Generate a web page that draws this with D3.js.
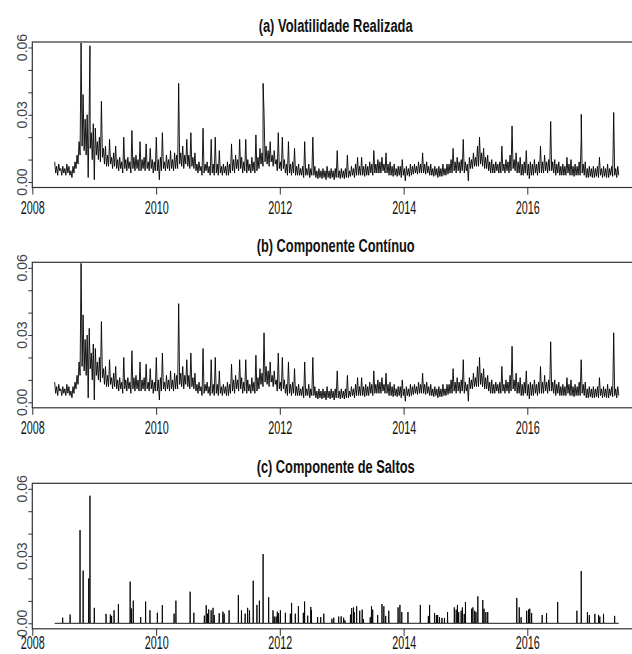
<!DOCTYPE html>
<html>
<head>
<meta charset="utf-8">
<script src="https://cdn.jsdelivr.net/npm/d3@7"></script>
<style>
  body { margin: 0; background: #fff; }
  svg { display: block; font-family: "Liberation Sans", Arial, sans-serif; }
</style>
</head>
<body>
<div id="graphic"></div>
<script>
// continuous component read in 12-day windows from 12 May 2008 (units of 0.001):
// highest value at the start of each window, lowest value half way through
var contHigh = [
  9,7,8,6,7,6,8,7,5,7,
  9,12,18,62,39,28,30,33,22,26,
  24,18,20,36,15,16,12,19,11,13,
  16,10,11,9,20,10,11,9,23,11,
  12,10,18,10,11,17,9,15,10,9,
  20,10,11,22,9,12,10,14,10,13,
  12,44,13,16,12,19,12,22,11,13,
  8,9,7,24,8,9,7,19,8,20,
  8,14,7,8,7,9,8,17,10,12,
  10,19,11,9,19,10,8,11,9,21,
  11,15,13,31,16,14,18,12,14,10,
  22,9,20,10,8,18,8,9,15,7,
  8,6,7,18,6,8,6,20,7,5,
  6,5,6,5,7,5,6,5,6,14,
  5,6,5,6,12,5,7,6,8,11,
  7,11,7,8,7,9,8,14,8,10,
  9,11,8,13,8,9,7,8,6,7,
  7,10,6,7,6,8,7,8,7,9,
  8,13,8,9,7,8,6,7,6,7,
  6,8,6,8,8,10,15,9,11,9,
  10,19,9,8,11,10,13,11,16,20,
  13,15,11,12,9,10,8,9,8,9,
  16,8,10,9,12,25,10,13,9,11,
  8,9,14,8,9,8,10,8,9,16,
  9,12,9,10,27,9,10,8,9,7,
  8,7,11,8,10,7,8,7,9,19,
  8,9,6,7,6,7,6,7,11,6,
  7,6,8,6,7,31,6,7
];
var contLow = [
  4,3,5,3,4,3,4,3,2,4,
  6,8,12,16,14,12,2,15,10,1,
  12,10,9,11,8,7,7,8,6,7,
  6,5,6,4,6,5,6,4,6,5,
  6,5,5,6,5,6,5,6,4,5,
  5,1,5,6,5,6,5,6,5,6,
  6,8,7,6,8,7,6,7,6,5,
  4,5,3,4,5,4,3,4,3,4,
  3,4,3,4,3,3,4,5,4,6,
  5,6,4,5,4,5,4,5,4,5,
  6,8,7,9,8,7,9,7,8,5,
  6,5,6,4,3,4,3,4,3,3,
  3,3,2,3,3,2,3,3,2,1.5,
  2,1.5,2,1,2,1.5,2,1,2,2,
  1.5,2,1.5,2,2,2.5,3,2,3,3,
  3,3,2.5,3,3,4,3,4,4,4,
  4,5,4,4,3,3,2.5,3,2.5,3,
  2,3,0.5,3,2.5,3,3.5,4,3.5,4,
  4,4,3.5,4,3,3,2.5,3,2,2.5,
  2.5,3,3,3.5,4,4,5,4,5,4,
  5,4,5,0.5,6,6,7,7,7,8,
  7,6,6,5,4,4,4,5,4,4,
  5,4,5,4,5,6,5,4,4,3,
  3,4,3,1.5,3,3,4,3,4,4,
  4,5,4,5,5,4,3,4,3,3,
  3,3,4,3,3,2.5,3,3,3,4,
  3,2,2,2.5,2,2,2.5,2,3,2,
  2.5,2,2,3,2.5,3,2,3
];

// days where realized volatility stands clearly above the continuous part
var rvExtraYears = [2008.93, 2011.73, 2016.87];
var rvExtraVals = [60.8, 44, 30.2];

// jump component (decimal year, size in 0.001)
var jumpYears = [
  2008.49,2008.61,2008.77,2008.82,2008.91,2008.93,2009.00,2009.19,2009.26,2009.28,
  2009.32,2009.39,2009.58,2009.60,2009.63,2009.75,2009.83,2009.90,2010.02,2010.10,
  2010.29,2010.32,2010.55,2010.61,2010.78,2010.81,2010.83,2010.85,2010.89,2010.92,
  2010.94,2011.02,2011.08,2011.10,2011.18,2011.33,2011.38,2011.44,2011.48,2011.51,
  2011.57,2011.63,2011.67,2011.73,2011.82,2011.89,2011.91,2011.94,2011.96,2011.98,
  2012.01,2012.09,2012.17,2012.19,2012.25,2012.30,2012.38,2012.40,2012.45,2012.50,
  2012.51,2012.61,2012.66,2012.71,2012.84,2012.87,2012.95,2012.99,2013.03,2013.05,
  2013.14,2013.16,2013.19,2013.20,2013.24,2013.29,2013.33,2013.35,2013.46,2013.48,
  2013.50,2013.58,2013.65,2013.68,2013.71,2013.76,2013.91,2013.94,2013.97,2014.07,
  2014.27,2014.40,2014.42,2014.50,2014.53,2014.55,2014.58,2014.62,2014.66,2014.71,
  2014.82,2014.85,2014.87,2014.89,2014.93,2014.95,2014.98,2015.00,2015.10,2015.12,
  2015.15,2015.17,2015.20,2015.28,2015.30,2015.33,2015.36,2015.83,2015.87,2015.90,
  2015.99,2016.02,2016.04,2016.07,2016.24,2016.31,2016.49,2016.80,2016.87,2016.97,
  2017.00,2017.09,2017.15,2017.17,2017.23,2017.41
];
var jumpVals = [
  2.5,3.9,41.6,23.5,20,56.9,6.9,4.2,3.9,3.3,
  5.8,8.6,18.6,6.6,10.1,2.8,9.7,5.8,4.7,8.1,
  4.3,10.1,14.1,4.7,3.4,8.1,4.3,6.2,5.8,6.9,
  3.7,4.5,5.2,4.3,5.8,12.6,5.8,4.3,6.9,5.8,
  19,8.2,10.1,30.9,11.6,5.8,3.0,3.0,5.2,4.5,
  5.8,4.7,4.3,9.1,4.3,7.7,4.7,9.7,3.4,7.3,
  5.8,2.8,2.8,4.3,2.0,2.5,3.0,3.1,2.5,1.3,
  3.9,6.8,7.1,5.0,7.6,5.6,6.1,1.8,2.7,7.6,
  6.1,3.7,8.6,7.6,3.3,5.6,7.1,8.2,5.0,5.0,
  8.2,3.3,8.2,4.6,3.7,3.7,2.8,2.4,2.4,5.0,
  7.1,6.1,8.2,5.0,5.6,7.1,4.2,9.5,6.5,7.1,
  5.6,5.0,12.0,10.4,6.5,5.0,5.0,11.3,7.1,2.7,
  5.6,6.1,6.5,4.6,3.7,4.6,9.5,5.6,23.3,5.0,
  3.7,4.2,3.7,3.0,4.2,3.3
];

var xTickYears = [2008, 2010, 2012, 2014, 2016];
var yTicks = [0, 0.01, 0.02, 0.03, 0.04, 0.05, 0.06];
var yLabelTicks = [0, 0.03, 0.06];
var titles = ["(a) Volatilidade Realizada", "(b) Componente Contínuo", "(c) Componente de Saltos"];

var width = 632, height = 654;
var panelTops = [42, 262.3, 483.3];
var titleWidths = [154, 158, 158];
var xLabelOffsets = [26, 26, 20];

function yearToDate(y) {
  var yr = Math.floor(y);
  var s = new Date(yr, 0, 1), e = new Date(yr + 1, 0, 1);
  return new Date(+s + (y - yr) * (e - s));
}

var startDate = new Date(2008, 4, 12);
var contSeries = [];
contHigh.forEach(function(v, i) {
  contSeries.push({ date: d3.timeDay.offset(startDate, 12 * i), value: v / 1000 });
  contSeries.push({ date: d3.timeDay.offset(startDate, 12 * i + 6), value: contLow[i] / 1000 });
});
var endDate = contSeries[contSeries.length - 1].date;

var rvSeries = contSeries.concat(rvExtraYears.map(function(y, i) {
  return { date: yearToDate(y), value: rvExtraVals[i] / 1000 };
})).sort(function(a, b) { return a.date - b.date; });

// jump series drawn as a daily line: zero everywhere except the jump days
var jumpSeries = [{ date: startDate, value: 0 }];
jumpYears.forEach(function(y, i) {
  var d = yearToDate(y);
  jumpSeries.push({ date: d3.timeDay.offset(d, -1), value: 0 });
  jumpSeries.push({ date: d, value: jumpVals[i] / 1000 });
  jumpSeries.push({ date: d3.timeDay.offset(d, 1), value: 0 });
});
jumpSeries.push({ date: endDate, value: 0 });

var seriesList = [rvSeries, contSeries, jumpSeries];

var x = d3.scaleTime()
  .domain([new Date(2008, 0, 1), new Date(2016, 0, 1)])
  .range([32.3, 527.3]);
var boxLeft = 32.3, boxRight = 639;

var svg = d3.select('#graphic').append('svg')
  .attr('width', width)
  .attr('height', height);

svg.append('rect').attr('width', width).attr('height', height).attr('fill', '#fff');

seriesList.forEach(function(series, p) {
  var top = panelTops[p];
  var bottom = top + 145.5;
  var y = d3.scaleLinear()
    .domain([0, 0.06])
    .range([top + 140, top + 5.5]);

  var g = svg.append('g');

  g.append('clipPath').attr('id', 'clip' + p)
    .append('rect')
    .attr('x', boxLeft).attr('y', top)
    .attr('width', boxRight - boxLeft).attr('height', bottom - top);

  var line = d3.line()
    .x(function(d) { return x(d.date); })
    .y(function(d) { return y(d.value); });

  g.append('path')
    .datum(series)
    .attr('clip-path', 'url(#clip' + p + ')')
    .attr('fill', 'none')
    .attr('stroke', '#000')
    .attr('stroke-width', 0.9)
    .attr('d', line);

  // box
  g.append('rect')
    .attr('x', boxLeft).attr('y', top)
    .attr('width', boxRight - boxLeft).attr('height', bottom - top)
    .attr('fill', 'none')
    .attr('stroke', '#333')
    .attr('stroke-width', 1.2);

  // y axis ticks
  var yAxis = d3.axisLeft(y).tickValues(yTicks).tickSize(4).tickFormat('');
  var ya = g.append('g')
    .attr('transform', 'translate(' + boxLeft + ',0)')
    .call(yAxis);
  ya.select('.domain').remove();
  ya.selectAll('line').attr('stroke', '#333');

  g.selectAll('text.ylab')
    .data(yLabelTicks)
    .join('text')
    .attr('class', 'ylab')
    .attr('transform', function(d) { return 'translate(26.5,' + y(d) + ') rotate(-90)'; })
    .attr('text-anchor', 'middle')
    .attr('font-size', 14)
    .attr('fill', '#444')
    .text(function(d) { return d3.format('.2f')(d); });

  // x axis
  var xAxis = d3.axisBottom(x)
    .tickValues(xTickYears.map(function(yr) { return new Date(yr, 0, 1); }))
    .tickSize(7)
    .tickFormat(d3.timeFormat('%Y'));
  var xa = g.append('g')
    .attr('transform', 'translate(0,' + bottom + ')')
    .call(xAxis);
  xa.select('.domain').remove();
  xa.selectAll('line').attr('stroke', '#333');
  xa.selectAll('text')
    .attr('dy', null)
    .attr('y', xLabelOffsets[p])
    .attr('font-family', '"Liberation Sans", Arial, sans-serif')
    .attr('font-size', 19)
    .attr('fill', '#111')
    .attr('textLength', 24)
    .attr('lengthAdjust', 'spacingAndGlyphs');

  // title
  g.append('text')
    .attr('x', (boxLeft + boxRight) / 2)
    .attr('y', top - 10)
    .attr('text-anchor', 'middle')
    .attr('font-size', 18)
    .attr('font-weight', 'bold')
    .attr('fill', '#111')
    .attr('textLength', titleWidths[p])
    .attr('lengthAdjust', 'spacingAndGlyphs')
    .text(titles[p]);
});
</script>
</body>
</html>
